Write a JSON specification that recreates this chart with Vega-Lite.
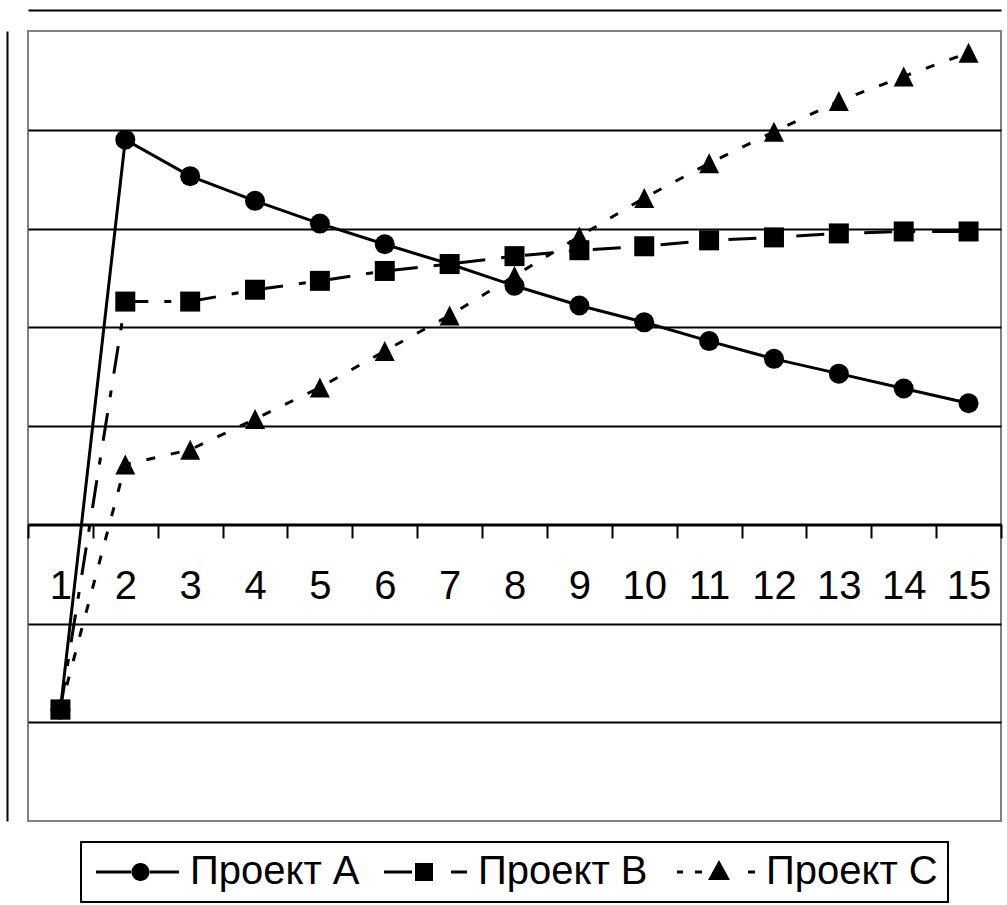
{
  "$schema": "https://vega.github.io/schema/vega-lite/v6.json",
  "width": 973,
  "height": 790,
  "padding": {"left": 7, "top": 10, "right": 5, "bottom": 0},
  "background": "white",
  "config": {
    "view": {"stroke": "#808080", "strokeWidth": 2},
    "font": "Liberation Sans",
    "legend": {"layout": {"bottom": {"anchor": "middle", "bounds": "flush"}}, "strokeWidth": 2}
  },
  "data": {
    "values": [
      {"period": 1, "series": "Проект A", "value": -1.87},
      {"period": 2, "series": "Проект A", "value": 3.9},
      {"period": 3, "series": "Проект A", "value": 3.53},
      {"period": 4, "series": "Проект A", "value": 3.28},
      {"period": 5, "series": "Проект A", "value": 3.05},
      {"period": 6, "series": "Проект A", "value": 2.84},
      {"period": 7, "series": "Проект A", "value": 2.64},
      {"period": 8, "series": "Проект A", "value": 2.42},
      {"period": 9, "series": "Проект A", "value": 2.22},
      {"period": 10, "series": "Проект A", "value": 2.05},
      {"period": 11, "series": "Проект A", "value": 1.86},
      {"period": 12, "series": "Проект A", "value": 1.68},
      {"period": 13, "series": "Проект A", "value": 1.53},
      {"period": 14, "series": "Проект A", "value": 1.38},
      {"period": 15, "series": "Проект A", "value": 1.23},
      {"period": 1, "series": "Проект B", "value": -1.87},
      {"period": 2, "series": "Проект B", "value": 2.26},
      {"period": 3, "series": "Проект B", "value": 2.26},
      {"period": 4, "series": "Проект B", "value": 2.38},
      {"period": 5, "series": "Проект B", "value": 2.47},
      {"period": 6, "series": "Проект B", "value": 2.57},
      {"period": 7, "series": "Проект B", "value": 2.64},
      {"period": 8, "series": "Проект B", "value": 2.72},
      {"period": 9, "series": "Проект B", "value": 2.78},
      {"period": 10, "series": "Проект B", "value": 2.82},
      {"period": 11, "series": "Проект B", "value": 2.88},
      {"period": 12, "series": "Проект B", "value": 2.91},
      {"period": 13, "series": "Проект B", "value": 2.95},
      {"period": 14, "series": "Проект B", "value": 2.97},
      {"period": 15, "series": "Проект B", "value": 2.97},
      {"period": 1, "series": "Проект C", "value": -1.87},
      {"period": 2, "series": "Проект C", "value": 0.61},
      {"period": 3, "series": "Проект C", "value": 0.76},
      {"period": 4, "series": "Проект C", "value": 1.07},
      {"period": 5, "series": "Проект C", "value": 1.39},
      {"period": 6, "series": "Проект C", "value": 1.76},
      {"period": 7, "series": "Проект C", "value": 2.12},
      {"period": 8, "series": "Проект C", "value": 2.52},
      {"period": 9, "series": "Проект C", "value": 2.92},
      {"period": 10, "series": "Проект C", "value": 3.31},
      {"period": 11, "series": "Проект C", "value": 3.66},
      {"period": 12, "series": "Проект C", "value": 3.98},
      {"period": 13, "series": "Проект C", "value": 4.29},
      {"period": 14, "series": "Проект C", "value": 4.54},
      {"period": 15, "series": "Проект C", "value": 4.78}
    ]
  },
  "encoding": {
    "y": {
      "field": "value",
      "type": "quantitative",
      "scale": {"domain": [-3, 5], "nice": false, "zero": false},
      "axis": {
        "title": null,
        "labels": false,
        "ticks": false,
        "domain": true,
        "domainColor": "black",
        "domainWidth": 2,
        "offset": 21,
        "grid": true,
        "gridColor": "black",
        "gridWidth": 2,
        "values": [-2, -1, 0, 1, 2, 3, 4],
        "minExtent": 0
      }
    }
  },
  "layer": [
    {
      "transform": [{"filter": "datum.series === 'Проект A'"}],
      "mark": {"type": "line", "color": "black", "strokeWidth": 3},
      "encoding": {
        "x": {
          "field": "period",
          "type": "ordinal",
          "scale": {"type": "band", "paddingInner": 0, "paddingOuter": 0},
          "axis": {
            "title": null,
            "orient": "bottom",
            "offset": -297,
            "labelAngle": 0,
            "labelFont": "Liberation Sans",
            "labelFontSize": 40,
            "labelColor": "black",
            "labelBaseline": "alphabetic",
            "labelPadding": 60,
            "labelOverlap": false,
            "labelFlush": false,
            "tickBand": "extent",
            "tickSize": 14,
            "tickColor": "black",
            "tickWidth": 2,
            "domainColor": "black",
            "domainWidth": 2,
            "grid": false,
            "zindex": 1
          }
        }
      }
    },
    {
      "transform": [{"filter": "datum.series === 'Проект B'"}],
      "mark": {"type": "line", "color": "black", "strokeWidth": 3, "strokeDash": [28, 16, 7, 17]},
      "encoding": {
        "x": {"field": "period", "type": "ordinal", "axis": null}
      }
    },
    {
      "transform": [{"filter": "datum.series === 'Проект C'"}],
      "mark": {"type": "line", "color": "black", "strokeWidth": 3, "strokeDash": [9, 16]},
      "encoding": {
        "x": {"field": "period", "type": "ordinal", "axis": null}
      }
    },
    {
      "mark": {"type": "point", "filled": true, "color": "black", "opacity": 1, "size": 400},
      "encoding": {
        "x": {
          "field": "period",
          "type": "ordinal",
          "axis": {
            "title": null,
            "orient": "top",
            "offset": 21,
            "labels": false,
            "ticks": false,
            "grid": false,
            "domain": true,
            "domainColor": "black",
            "domainWidth": 2,
            "minExtent": 0
          }
        },
        "shape": {
          "field": "series",
          "type": "nominal",
          "scale": {
            "domain": ["Проект A", "Проект B", "Проект C"],
            "range": ["circle", "square", "M0,-1L1,1L-1,1Z"]
          },
          "legend": null
        }
      }
    },
    {
      "transform": [{"filter": "datum.value > 100"}],
      "mark": {"type": "point", "filled": true, "color": "black", "opacity": 1, "size": 400},
      "encoding": {
        "x": {"field": "period", "type": "ordinal", "axis": null},
        "shape": {
          "field": "series",
          "type": "nominal",
          "scale": {
            "domain": ["Проект A", "Проект B", "Проект C"],
            "range": [
              "M-1.5,-0.15H2.1V0.15H-1.5Z M3.8,-0.15H6.8V0.15H3.8Z M2.05,0A0.9,0.9 0 1,0 3.85,0A0.9,0.9 0 1,0 2.05,0Z",
              "M-1.5,-0.15H1.3V0.15H-1.5Z M1.6,-0.9H3.4V0.9H1.6Z M5.2,-0.15H6.8V0.15H5.2Z",
              "M-1,-0.15H-0.4V0.15H-1Z M0.8,-0.15H1.5V0.15H0.8Z M2.1,0.8L3.2,-1.2L4.3,0.8Z M6.1,-0.15H6.8V0.15H6.1Z"
            ]
          },
          "legend": {
            "title": null,
            "orient": "bottom",
            "direction": "horizontal",
            "offset": 21,
            "padding": 10,
            "strokeColor": "black",
            "labelFont": "Liberation Sans",
            "labelFontSize": 40,
            "labelColor": "black",
            "labelLimit": 400,
            "labelOffset": 59,
            "columnPadding": 19,
            "symbolSize": 400,
            "symbolFillColor": "black",
            "symbolStrokeWidth": 0,
            "symbolOpacity": 1
          }
        }
      }
    }
  ],
  "resolve": {"axis": {"x": "independent"}, "scale": {"shape": "independent"}}
}
